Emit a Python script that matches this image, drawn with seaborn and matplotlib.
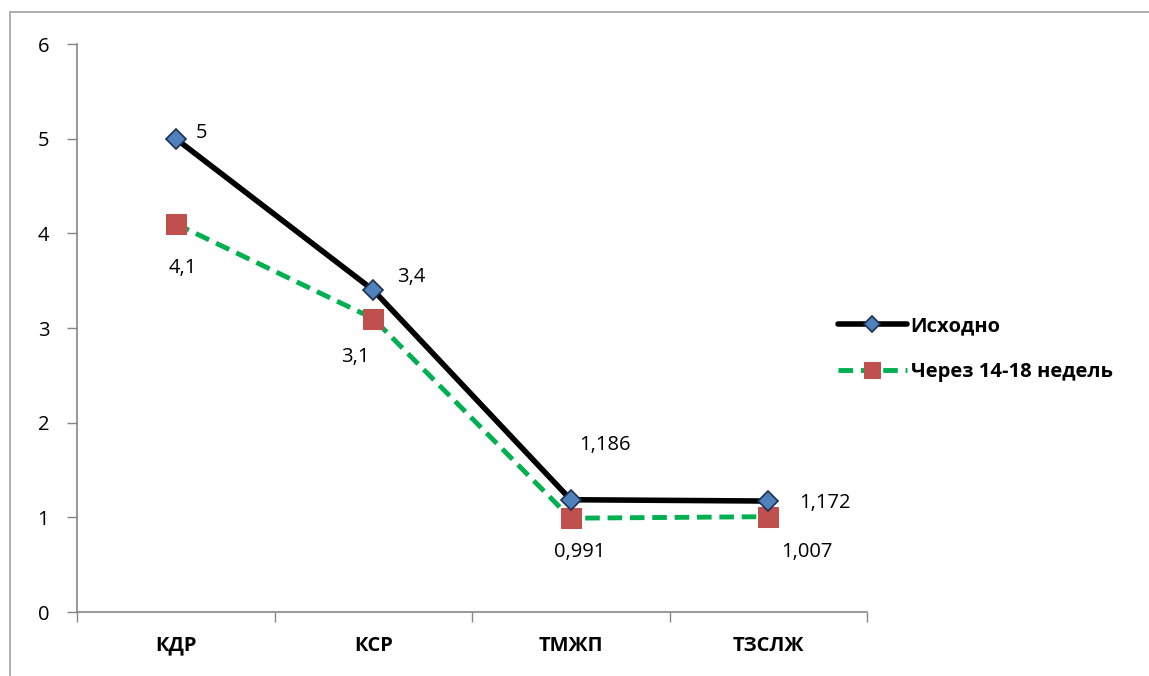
import matplotlib
matplotlib.use("Agg")
import matplotlib.pyplot as plt
import matplotlib.patches as mpatches
import seaborn as sns
import pandas as pd
import numpy as np

categories = ["КДР", "КСР", "ТМЖП", "ТЗСЛЖ"]
series_names = ["Исходно", "Через 14-18 недель"]
values_initial = [5, 3.4, 1.186, 1.172]
values_after = [4.1, 3.1, 0.991, 1.007]
labels_initial = ["5", "3,4", "1,186", "1,172"]
labels_after = ["4,1", "3,1", "0,991", "1,007"]
yticks = [0, 1, 2, 3, 4, 5, 6]

sns.set_theme(style="white")
plt.rcParams['font.family'] = ['Open Sans', 'DejaVu Sans']
plt.rcParams['text.color'] = 'black'
plt.rcParams['xtick.color'] = 'black'
plt.rcParams['ytick.color'] = 'black'

df = pd.DataFrame({
    "cat": categories * 2,
    "value": values_initial + values_after,
    "series": [series_names[0]] * 4 + [series_names[1]] * 4,
})

fig = plt.figure(figsize=(11.49, 6.76), dpi=100)
ax = fig.add_axes([77/1149, 1 - 612/676, (867-77)/1149, (612-44)/676])

grey = "#868686"
d1 = df[df.series == series_names[0]]
d2 = df[df.series == series_names[1]]
sns.lineplot(data=d2, x="cat", y="value", ax=ax, color="#00B050", lw=3.5,
             linestyle=(0, (3, 1.6)), marker="s", markersize=14,
             markerfacecolor="#C0504D", markeredgecolor="#C0504D",
             label=series_names[1], sort=False)
sns.lineplot(data=d1, x="cat", y="value", ax=ax, color="black", lw=4,
             marker="D", markersize=10, markerfacecolor="#4F81BD",
             markeredgecolor="#1F2F4F", markeredgewidth=1.2,
             label=series_names[0], sort=False)

fs = 14.5
ax.set_xlim(-0.5, 3.5)
ax.set_ylim(0, 6)
ax.set_yticks(yticks)
ax.set_yticklabels([str(t) for t in yticks], fontsize=fs)
ax.set_xticks(range(4))
ax.set_xticklabels(categories, fontsize=fs, fontweight="bold")
ax.set_xticks(np.arange(-0.5, 4.0, 1.0), minor=True)
ax.tick_params(axis="x", which="major", length=0, pad=17)
ax.tick_params(axis="x", which="minor", length=7, color=grey, width=1, direction="out", bottom=True)
ax.tick_params(axis="y", length=7, color=grey, width=1, direction="out", left=True, pad=13)
ax.set_xlabel("")
ax.set_ylabel("")
for s in ["top", "right"]:
    ax.spines[s].set_visible(False)
for s in ["left", "bottom"]:
    ax.spines[s].set_color(grey)
    ax.spines[s].set_linewidth(1.2)

off_init = [(26, 6), (38, 13), (34, 55), (57, -2)]
off_after = [(7, -44), (-18, -38), (9, -34), (39, -35)]
for i in range(4):
    ax.annotate(labels_initial[i], (i, values_initial[i]), xytext=off_init[i],
                textcoords="offset pixels", fontsize=fs, ha="center", va="center")
    ax.annotate(labels_after[i], (i, values_after[i]), xytext=off_after[i],
                textcoords="offset pixels", fontsize=fs, ha="center", va="center")

handles, labs = ax.get_legend_handles_labels()
order = [labs.index(series_names[0]), labs.index(series_names[1])]
if ax.get_legend():
    ax.get_legend().remove()
leg = fig.legend([handles[i] for i in order], [labs[i] for i in order],
                 loc="center left", bbox_to_anchor=(820/1149, 1 - 349/676),
                 frameon=False, prop={"weight": "bold", "size": fs},
                 handlelength=3.4, labelspacing=1.3, handletextpad=0.2,
                 markerscale=0.85)

rect = mpatches.Rectangle((10/1149, -0.05), 1.1, 1 - 12/676 + 0.05, transform=fig.transFigure,
                          fill=False, edgecolor="#A0A0A0", lw=1.2)
fig.add_artist(rect)

fig.savefig("out.png", dpi=100)
